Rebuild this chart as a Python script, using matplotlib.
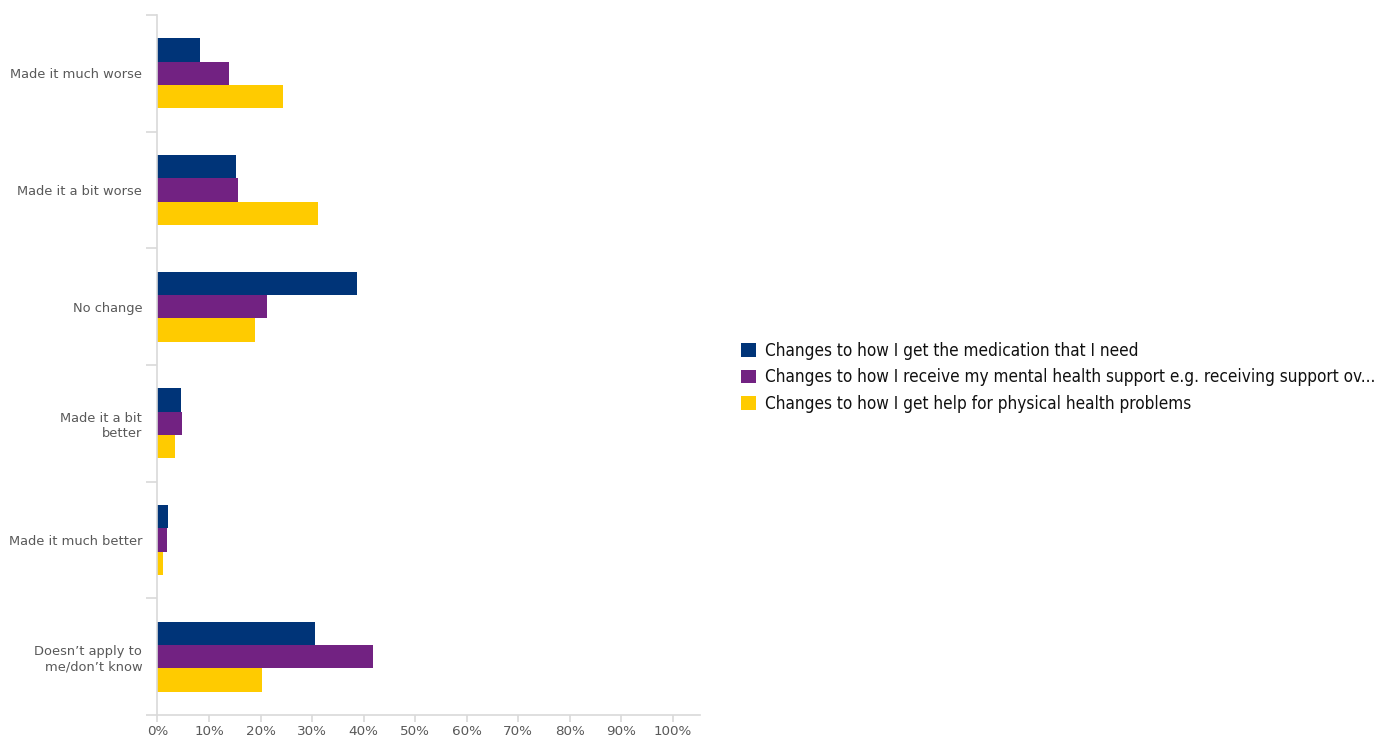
import numpy as np
import matplotlib.pyplot as plt
from matplotlib.patches import Patch

categories = ["Made it much worse", "Made it a bit worse", "No change",
              "Made it a bit\nbetter", "Made it much better",
              "Doesn’t apply to\nme/don’t know"]
series_names = ["Changes to how I get the medication that I need",
                "Changes to how I receive my mental health support e.g. receiving support ov...",
                "Changes to how I get help for physical health problems"]
medication = [8.2, 15.2, 38.8, 4.5, 2.0, 30.6]
mental_health = [13.9, 15.6, 21.3, 4.7, 1.8, 41.9]
physical = [24.4, 31.2, 18.9, 3.4, 1.0, 20.3]
colors = ["#003478", "#722282", "#ffcb00"]

fig = plt.figure(figsize=(13.85, 7.4), dpi=100)
ax = fig.add_axes([0.1137, 0.0338, 0.3917, 0.9459])

n = len(categories)
y = np.arange(n)
h = 0.2
for i, vals in enumerate([medication, mental_health, physical]):
    ax.barh(y + (i - 1) * h, vals, height=h, color=colors[i])

ax.set_ylim(n - 0.5, -0.5)
ax.set_xlim(0, 105.3)
ax.set_xticks(np.arange(0, 101, 10))
ax.set_xticklabels([f"{v}%" for v in range(0, 101, 10)])
ax.set_yticks(y)
ax.set_yticklabels(categories)
ax.set_yticks(np.arange(-0.5, n, 1), minor=True)

grey = "#d9d9d9"
for s in ["top", "right"]:
    ax.spines[s].set_visible(False)
for s in ["left", "bottom"]:
    ax.spines[s].set_color(grey)
    ax.spines[s].set_linewidth(1.2)
ax.tick_params(axis="y", which="major", length=0, pad=11, labelsize=9.4, labelcolor="#595959")
ax.tick_params(axis="y", which="minor", length=8, color=grey, width=1.2)
ax.tick_params(axis="x", length=5, color=grey, width=1.2, labelsize=9.7, labelcolor="#595959", pad=2)
for t in ax.get_yticklabels():
    t.set_horizontalalignment("right")

handles = [Patch(facecolor=c) for c in colors]
fig.legend(handles, series_names, loc="center left", bbox_to_anchor=(0.524, 0.49),
           frameon=False, handlelength=0.85, handleheight=0.85,
           handletextpad=0.55, labelspacing=0.5, labelcolor="#111111",
           prop={"family": "DejaVu Sans", "stretch": "condensed", "size": 12.3})

fig.savefig("out.png", dpi=100)
